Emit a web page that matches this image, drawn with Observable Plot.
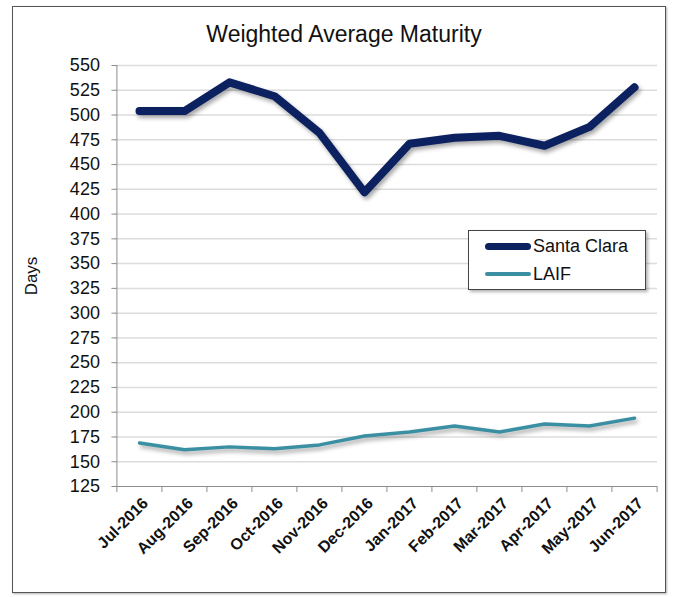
<!DOCTYPE html>
<html>
<head>
<meta charset="utf-8">
<script src="https://cdn.jsdelivr.net/npm/d3@7"></script>
<script src="https://cdn.jsdelivr.net/npm/@observablehq/plot@0.6"></script>
<style>
  html, body { margin: 0; padding: 0; background: #fff; }
  #wrap { position: relative; width: 674px; height: 597px; font-family: "Liberation Sans", Arial, sans-serif; }
  #border { position: absolute; left: 12px; top: 6px; width: 652px; height: 585px; border: 1.5px solid #555; box-shadow: 1px 1px 2px rgba(0,0,0,0.3); }
  #title { position: absolute; left: 0; width: 688px; top: 21px; text-align: center; font-size: 23px; color: #111; }
  #legend { position: absolute; left: 468px; top: 230px; width: 176px; height: 58px; border: 1px solid #444; background: #fff; box-shadow: 2px 2px 3px rgba(0,0,0,0.3); font-size: 18px; color: #111; }
  .li { position: absolute; left: 0; display: flex; align-items: center; }
  .sw { display: inline-block; width: 46px; margin-left: 16px; margin-right: 2px; border-radius: 4px; }
  #plot { position: absolute; left: 0; top: 0; }
  .shadowed path { filter: drop-shadow(2px 3px 2px rgba(0,0,0,0.35)); }
</style>
</head>
<body>
<div id="wrap">
  <div id="border"></div>
  <div id="plot"></div>
  <div id="title">Weighted Average Maturity</div>
  <div id="legend"></div>
</div>
<script>
const months = ["Jul-2016","Aug-2016","Sep-2016","Oct-2016","Nov-2016","Dec-2016","Jan-2017","Feb-2017","Mar-2017","Apr-2017","May-2017","Jun-2017"];
const santaClara = [504, 504, 533, 519, 482, 422, 471, 477, 479, 469, 488, 528];
const laif = [169, 162, 165, 163, 167, 176, 180, 186, 180, 188, 186, 194];
const yTicks = [125, 150, 175, 200, 225, 250, 275, 300, 325, 350, 375, 400, 425, 450, 475, 500, 525, 550];
const seriesNames = ["Santa Clara", "LAIF"];
const seriesColors = ["#0b2160", "#3a8fa3"];

const W = 674, H = 597, mL = 115, mR = 17, mT = 65, mB = 111;
const step = (W - mL - mR) / months.length;

const scData = months.map((m, i) => ({month: m, value: santaClara[i]}));
const laifData = months.map((m, i) => ({month: m, value: laif[i]}));

const axisColor = "#8c8c8c";
const first = () => months[0];

const chart = Plot.plot({
  width: W, height: H,
  marginLeft: mL, marginRight: mR, marginTop: mT, marginBottom: mB,
  x: {type: "point", domain: months, padding: 0.5, axis: null},
  y: {domain: [125, 550], axis: null},
  style: {fontFamily: "'Liberation Sans', Arial, sans-serif", background: "transparent", overflow: "visible"},
  marks: [
    Plot.ruleY(yTicks.filter(t => t > 125), {y: d => d, stroke: "#dcdcdc", strokeWidth: 1.5}),
    Plot.ruleY(yTicks, {y: d => d, x1: first, x2: first, dx: -step / 2, insetLeft: -5, stroke: axisColor}),
    Plot.ruleX([months[0]], {x: d => d, dx: -step / 2, y1: 125, y2: 550, stroke: axisColor}),
    Plot.ruleY([125], {y: d => d, stroke: axisColor}),
    Plot.ruleX(months, {x: d => d, dx: -step / 2, y1: 125, y2: 125, insetBottom: -6, stroke: axisColor}),
    Plot.ruleX([months[months.length - 1]], {x: d => d, dx: step / 2, y1: 125, y2: 125, insetBottom: -6, stroke: axisColor}),
    Plot.text(yTicks, {x: first, y: d => d, dx: -step / 2 - 17, text: d => String(d), textAnchor: "end", fontSize: 18, fill: "#111", style: "letter-spacing:0.6px"}),
    Plot.text(months, {x: d => d, y: () => 125, text: d => d, rotate: -45, textAnchor: "end", dx: 6, dy: 14, fontSize: 16, fontWeight: "bold", fill: "#111"}),
    Plot.text(["Days"], {x: first, y: () => 337.5, text: d => d, rotate: -90, dx: -step / 2 - 85, fontSize: 17, fill: "#111"}),
    Plot.line(laifData, {x: "month", y: "value", stroke: seriesColors[1], strokeWidth: 3.5, className: "shadowed"}),
    Plot.line(scData, {x: "month", y: "value", stroke: seriesColors[0], strokeWidth: 8, className: "shadowed"})
  ]
});
document.getElementById("plot").appendChild(chart);

const legend = document.getElementById("legend");
seriesNames.forEach((name, i) => {
  const row = document.createElement("div");
  row.className = "li";
  row.style.top = (i === 0 ? 3 : 31) + "px";
  row.style.height = "24px";
  const sw = document.createElement("span");
  sw.className = "sw";
  sw.style.height = (i === 0 ? 7 : 3.5) + "px";
  sw.style.background = seriesColors[i];
  const t = document.createElement("span");
  t.textContent = name;
  row.appendChild(sw); row.appendChild(t);
  legend.appendChild(row);
});
</script>
</body>
</html>
